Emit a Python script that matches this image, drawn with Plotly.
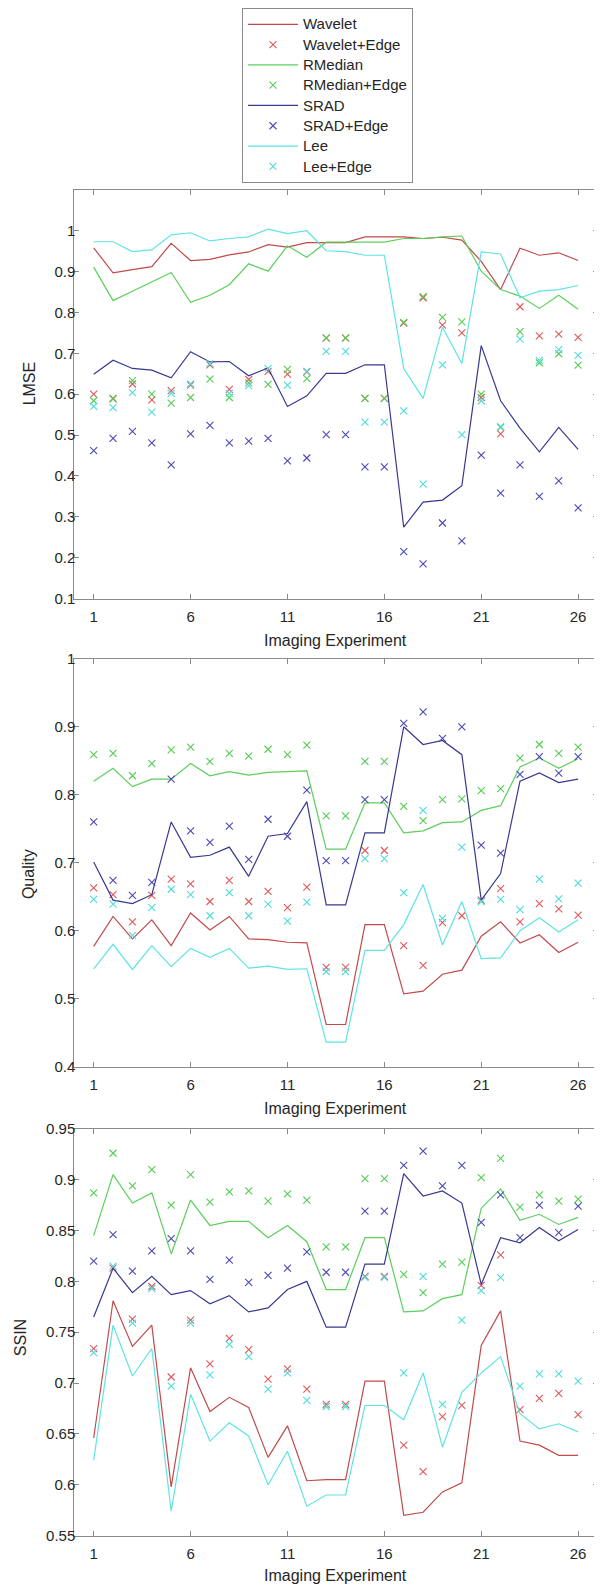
import plotly.graph_objects as go

# page body has a default 8px margin, so the figure is drawn 8px in from the window edge
OFF = 8
W, H = 602 - OFF, 1595 - OFF

experiments = list(range(1, 27))
x_tick_vals = [1, 6, 11, 16, 21, 26]

series_names = ["Wavelet", "Wavelet+Edge", "RMedian", "RMedian+Edge",
                "SRAD", "SRAD+Edge", "Lee", "Lee+Edge"]

# ---------------- LMSE ----------------
lmse_wavelet = [0.958, 0.897, 0.905, 0.912, 0.969, 0.927, 0.930, 0.941, 0.948, 0.966, 0.960, 0.971, 0.971,
                0.971, 0.985, 0.985, 0.985, 0.981, 0.984, 0.977, 0.925, 0.856, 0.957, 0.940, 0.946, 0.927]
lmse_wavelet_edge = [0.600, 0.590, 0.625, 0.586, 0.609, 0.622, 0.672, 0.612, 0.636, 0.656, 0.649, 0.655, 0.737,
                     0.737, 0.590, 0.590, 0.774, 0.836, 0.769, 0.750, 0.592, 0.503, 0.814, 0.743, 0.747, 0.739]
lmse_rmedian = [0.911, 0.829, 0.852, 0.875, 0.898, 0.825, 0.842, 0.868, 0.919, 0.901, 0.963, 0.935, 0.972,
                0.972, 0.972, 0.972, 0.981, 0.981, 0.985, 0.987, 0.901, 0.856, 0.840, 0.810, 0.842, 0.808]
lmse_rmedian_edge = [0.584, 0.588, 0.633, 0.600, 0.578, 0.592, 0.637, 0.592, 0.628, 0.624, 0.661, 0.638, 0.738,
                     0.738, 0.590, 0.590, 0.776, 0.839, 0.788, 0.777, 0.600, 0.519, 0.753, 0.677, 0.699, 0.671]
lmse_srad = [0.649, 0.683, 0.663, 0.659, 0.640, 0.704, 0.679, 0.680, 0.645, 0.664, 0.570, 0.596, 0.651,
             0.651, 0.672, 0.672, 0.275, 0.336, 0.341, 0.376, 0.719, 0.584, 0.517, 0.459, 0.519, 0.465]
lmse_srad_edge = [0.462, 0.492, 0.509, 0.481, 0.427, 0.503, 0.524, 0.481, 0.485, 0.492, 0.437, 0.444, 0.501,
                  0.501, 0.422, 0.422, 0.215, 0.185, 0.285, 0.241, 0.451, 0.358, 0.427, 0.350, 0.388, 0.322]
lmse_lee = [0.973, 0.973, 0.949, 0.953, 0.990, 0.995, 0.975, 0.981, 0.985, 1.004, 0.993, 1.000, 0.951,
            0.949, 0.940, 0.940, 0.663, 0.590, 0.764, 0.675, 0.948, 0.943, 0.836, 0.852, 0.856, 0.866]
lmse_lee_edge = [0.570, 0.567, 0.604, 0.556, 0.602, 0.625, 0.675, 0.602, 0.621, 0.663, 0.622, 0.656, 0.705,
                 0.705, 0.532, 0.532, 0.559, 0.380, 0.672, 0.501, 0.584, 0.521, 0.735, 0.683, 0.709, 0.695]

# ---------------- Quality ----------------
quality_wavelet = [0.577, 0.621, 0.588, 0.616, 0.578, 0.626, 0.601, 0.621, 0.588, 0.587, 0.583, 0.582, 0.462,
                   0.462, 0.609, 0.609, 0.507, 0.511, 0.536, 0.542, 0.592, 0.613, 0.582, 0.594, 0.568, 0.583]
quality_wavelet_edge = [0.663, 0.653, 0.613, 0.652, 0.676, 0.669, 0.643, 0.674, 0.643, 0.658, 0.634, 0.664, 0.546,
                        0.546, 0.718, 0.718, 0.578, 0.549, 0.612, 0.622, 0.645, 0.662, 0.613, 0.640, 0.632, 0.623]
quality_rmedian = [0.820, 0.839, 0.812, 0.823, 0.823, 0.846, 0.828, 0.834, 0.829, 0.833, 0.834, 0.835, 0.720,
                   0.720, 0.788, 0.788, 0.744, 0.747, 0.759, 0.760, 0.777, 0.784, 0.841, 0.854, 0.839, 0.853]
quality_rmedian_edge = [0.859, 0.861, 0.828, 0.846, 0.866, 0.870, 0.849, 0.861, 0.857, 0.867, 0.859, 0.873, 0.769,
                        0.769, 0.849, 0.849, 0.783, 0.762, 0.793, 0.794, 0.806, 0.809, 0.854, 0.874, 0.861, 0.870]
quality_srad = [0.701, 0.645, 0.640, 0.653, 0.760, 0.708, 0.711, 0.723, 0.680, 0.739, 0.743, 0.790, 0.638,
                0.638, 0.744, 0.744, 0.900, 0.874, 0.880, 0.859, 0.645, 0.684, 0.820, 0.832, 0.818, 0.823]
quality_srad_edge = [0.760, 0.674, 0.652, 0.671, 0.823, 0.747, 0.730, 0.754, 0.705, 0.764, 0.739, 0.807, 0.703,
                     0.703, 0.793, 0.793, 0.905, 0.922, 0.883, 0.900, 0.726, 0.714, 0.830, 0.856, 0.832, 0.856]
quality_lee = [0.544, 0.580, 0.543, 0.578, 0.547, 0.574, 0.561, 0.574, 0.545, 0.548, 0.543, 0.544, 0.436,
               0.436, 0.571, 0.571, 0.609, 0.668, 0.579, 0.643, 0.559, 0.560, 0.600, 0.619, 0.598, 0.616]
quality_lee_edge = [0.646, 0.639, 0.593, 0.634, 0.661, 0.653, 0.622, 0.656, 0.622, 0.639, 0.614, 0.642, 0.540,
                    0.540, 0.706, 0.706, 0.656, 0.777, 0.618, 0.723, 0.643, 0.646, 0.631, 0.676, 0.647, 0.670]

# ---------------- SSIN ----------------
ssin_wavelet = [0.646, 0.781, 0.736, 0.757, 0.598, 0.715, 0.672, 0.686, 0.676, 0.627, 0.658, 0.604, 0.605,
                0.605, 0.702, 0.702, 0.570, 0.573, 0.593, 0.602, 0.737, 0.771, 0.643, 0.639, 0.629, 0.629]
ssin_wavelet_edge = [0.734, 0.813, 0.763, 0.795, 0.706, 0.762, 0.719, 0.744, 0.733, 0.704, 0.714, 0.694, 0.679,
                     0.679, 0.805, 0.805, 0.639, 0.613, 0.667, 0.678, 0.796, 0.826, 0.674, 0.685, 0.690, 0.669]
ssin_rmedian = [0.845, 0.905, 0.877, 0.887, 0.827, 0.880, 0.855, 0.859, 0.859, 0.843, 0.855, 0.839, 0.792,
                0.792, 0.843, 0.843, 0.770, 0.771, 0.783, 0.787, 0.872, 0.891, 0.860, 0.866, 0.856, 0.863]
ssin_rmedian_edge = [0.887, 0.926, 0.894, 0.910, 0.875, 0.905, 0.878, 0.888, 0.889, 0.879, 0.886, 0.880, 0.834,
                     0.834, 0.901, 0.901, 0.807, 0.789, 0.817, 0.819, 0.902, 0.921, 0.873, 0.885, 0.879, 0.881]
ssin_srad = [0.765, 0.813, 0.789, 0.805, 0.787, 0.791, 0.778, 0.786, 0.770, 0.774, 0.792, 0.800, 0.755,
             0.755, 0.817, 0.817, 0.906, 0.884, 0.889, 0.877, 0.797, 0.843, 0.838, 0.853, 0.840, 0.851]
ssin_srad_edge = [0.820, 0.846, 0.810, 0.830, 0.842, 0.830, 0.802, 0.821, 0.799, 0.806, 0.813, 0.829, 0.809,
                  0.809, 0.869, 0.869, 0.914, 0.928, 0.894, 0.914, 0.858, 0.885, 0.843, 0.875, 0.848, 0.874]
ssin_lee = [0.624, 0.757, 0.707, 0.734, 0.574, 0.689, 0.643, 0.661, 0.648, 0.600, 0.633, 0.579, 0.590,
            0.590, 0.678, 0.678, 0.664, 0.710, 0.637, 0.691, 0.710, 0.726, 0.670, 0.655, 0.660, 0.652]
ssin_lee_edge = [0.730, 0.815, 0.759, 0.793, 0.697, 0.759, 0.708, 0.738, 0.726, 0.694, 0.710, 0.683, 0.677,
                 0.677, 0.804, 0.804, 0.710, 0.805, 0.679, 0.762, 0.791, 0.804, 0.697, 0.709, 0.709, 0.702]

line_colors = {"Wavelet": "#c24a4a", "RMedian": "#5ccf5c", "SRAD": "#383890", "Lee": "#5fe3e3"}
marker_colors = {"Wavelet+Edge": "#de5a5a", "RMedian+Edge": "#55cc55", "SRAD+Edge": "#4a4ab5", "Lee+Edge": "#4fdbdb"}

# positions below are measured in window pixels
panels = [
    dict(name="LMSE", data=[lmse_wavelet, lmse_wavelet_edge, lmse_rmedian, lmse_rmedian_edge,
                            lmse_srad, lmse_srad_edge, lmse_lee, lmse_lee_edge],
         yrange=[0.1, 1.1], yticks=[0.1, 0.2, 0.3, 0.4, 0.5, 0.6, 0.7, 0.8, 0.9, 1.0],
         ytext=["0.1", "0.2", "0.3", "0.4", "0.5", "0.6", "0.7", "0.8", "0.9", "1"],
         top=180, bottom=594, title_y=376, title_x=29, xtitle_y=636),
    dict(name="Quality", data=[quality_wavelet, quality_wavelet_edge, quality_rmedian, quality_rmedian_edge,
                               quality_srad, quality_srad_edge, quality_lee, quality_lee_edge],
         yrange=[0.4, 1.0], yticks=[0.4, 0.5, 0.6, 0.7, 0.8, 0.9, 1.0],
         ytext=["0.4", "0.5", "0.6", "0.7", "0.8", "0.9", "1"],
         top=655, bottom=1068, title_y=873, title_x=28, xtitle_y=1110),
    dict(name="SSIN", data=[ssin_wavelet, ssin_wavelet_edge, ssin_rmedian, ssin_rmedian_edge,
                            ssin_srad, ssin_srad_edge, ssin_lee, ssin_lee_edge],
         yrange=[0.55, 0.95], yticks=[0.55, 0.6, 0.65, 0.7, 0.75, 0.8, 0.85, 0.9, 0.95],
         ytext=["0.55", "0.6", "0.65", "0.7", "0.75", "0.8", "0.85", "0.9", "0.95"],
         top=1131, bottom=1543, title_y=1343, title_x=20, xtitle_y=1583),
]


def px(xw):
    return (xw - OFF) / W


def py(yw):
    return 1 - (yw - OFF) / H


FONT = "Liberation Sans, Arial, Helvetica, sans-serif"
AXIS_COLOR = "#8a8a8a"
TEXT_COLOR = "#262626"

fig = go.Figure()
annotations = []
x_left, x_right = 74.3, 597.5

for i, p in enumerate(panels):
    n = "" if i == 0 else str(i + 1)
    xa, ya = "x" + n, "y" + n
    for name, vals in zip(series_names, p["data"]):
        label = '<span style="font-size:15px">' + name + '</span>'
        if name.endswith("+Edge"):
            fig.add_trace(go.Scatter(
                x=experiments, y=vals, mode="markers", name=label, xaxis=xa, yaxis=ya,
                showlegend=(i == 0), legendrank=series_names.index(name),
                marker=dict(symbol="x-thin", size=7, line=dict(width=1.1, color=marker_colors[name]),
                            color=marker_colors[name])))
        else:
            fig.add_trace(go.Scatter(
                x=experiments, y=vals, mode="lines", name=label, xaxis=xa, yaxis=ya,
                showlegend=(i == 0), legendrank=series_names.index(name),
                line=dict(width=1.2, color=line_colors[name])))
    common = dict(showline=True, linecolor=AXIS_COLOR, linewidth=1, mirror="ticks",
                  ticks="inside", ticklen=5, tickcolor=AXIS_COLOR, tickwidth=1,
                  showgrid=False, zeroline=False,
                  tickfont=dict(family=FONT, size=15, color=TEXT_COLOR))
    fig.layout["xaxis" + n] = dict(
        common, domain=[px(x_left), px(x_right)], range=[0, 27], tickvals=x_tick_vals,
        ticktext=[str(v) for v in x_tick_vals], anchor=ya, ticklabelstandoff=4)
    fig.layout["yaxis" + n] = dict(
        common, domain=[py(p["bottom"]), py(p["top"])], range=p["yrange"],
        tickvals=p["yticks"], ticktext=p["ytext"], anchor=xa, ticklabelstandoff=-5)
    annotations.append(dict(text=p["name"], x=px(p["title_x"]), y=py(p["title_y"]),
                            xref="paper", yref="paper", showarrow=False, textangle=-90,
                            xanchor="center", yanchor="middle",
                            font=dict(family=FONT, size=16, color=TEXT_COLOR)))
    annotations.append(dict(text="Imaging Experiment", x=px((x_left + x_right) / 2),
                            y=py(p["xtitle_y"]), xref="paper", yref="paper", showarrow=False,
                            xanchor="center", yanchor="middle",
                            font=dict(family=FONT, size=16, color=TEXT_COLOR)))

fig.update_layout(
    width=W, height=H, margin=dict(l=0, r=0, t=0, b=0),
    paper_bgcolor="white", plot_bgcolor="white",
    annotations=annotations,
    legend=dict(x=px(242), y=py(-4), xanchor="left", yanchor="top",
                bgcolor="white", bordercolor=AXIS_COLOR, borderwidth=1,
                font=dict(family=FONT, size=13.3, color=TEXT_COLOR),
                tracegroupgap=0, itemwidth=50, traceorder="normal"),
)

fig.write_html("out.html")
